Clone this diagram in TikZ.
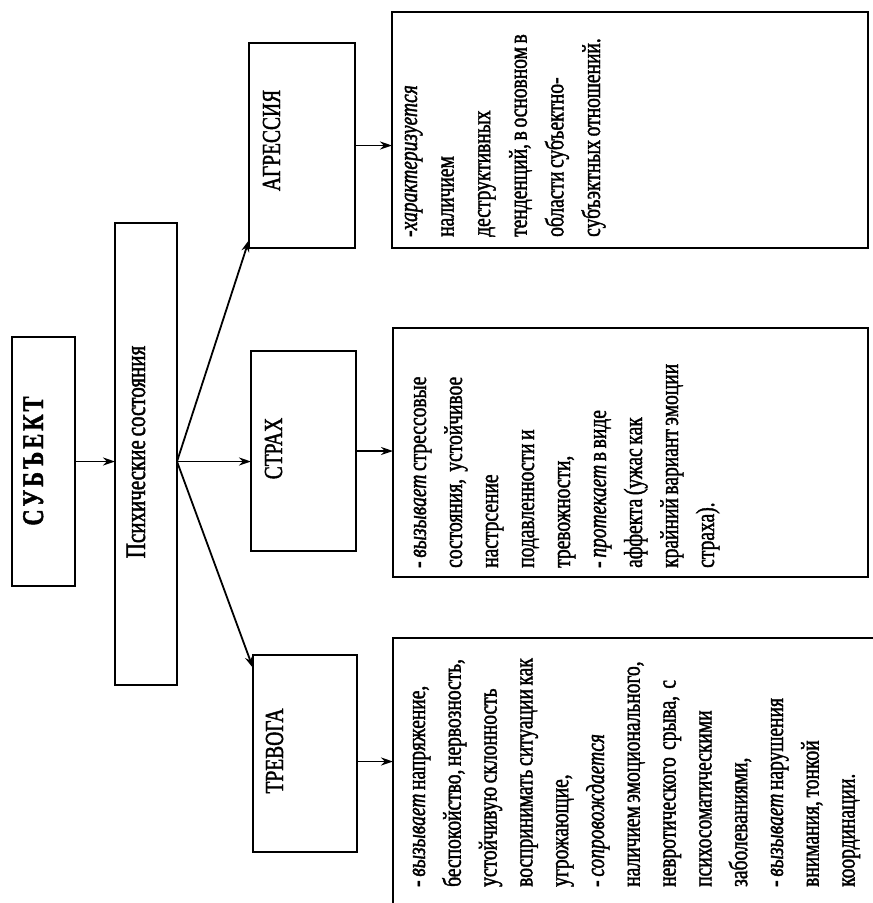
\documentclass[tikz,border=0pt]{standalone}
\usepackage{fontspec}
\setmainfont[FakeStretch=0.75,WordSpace=0.75,FakeBold=1.5]{Liberation Serif}
\usetikzlibrary{arrows.meta,calc}
\tikzset{
  box/.style={draw,line width=1.8pt,inner sep=0pt,outer sep=0pt},
  lbl/.style={rotate=90,anchor=base,inner sep=0pt,font=\fontsize{26}{30}\selectfont},
  desc/.style={rotate=90,anchor=base west,inner sep=0pt,align=flush left,text width=300pt},
  arr/.style={line width=1.8pt,-{Stealth[length=12pt,width=8pt]}}
}
\begin{document}
\begin{tikzpicture}[x=1pt,y=-1pt]
\useasboundingbox (0,0) rectangle (873,903);
\clip (0,0) rectangle (873,903);
% boxes
\node[box,minimum width=63pt,minimum height=249pt] (subj) at (43.5,461.5) {};
\node[box,minimum width=62pt,minimum height=462pt] (psy) at (146,454) {};
\node[box,minimum width=106pt,minimum height=205pt] (agr) at (302,145.5) {};
\node[box,minimum width=105pt,minimum height=200pt] (strax) at (303.5,451) {};
\node[box,minimum width=104pt,minimum height=197pt] (trev) at (305,753.5) {};
\node[box,minimum width=476pt,minimum height=236pt] (agrd) at (630,130) {};
\node[box,minimum width=475pt,minimum height=249pt] (strd) at (630.5,452.5) {};
\node[box,minimum width=497pt,minimum height=287pt] (trevd) at (641.5,781.5) {};
% labels
\node[lbl,font=\fontsize{30}{34}\selectfont\bfseries] (subjT) at (43,461)
  {С\kern3pt У\kern3pt Б\kern3pt Ъ\kern3pt Е\kern3pt К\kern3pt Т};
\node[lbl,font=\fontsize{28}{32}\selectfont] (psyT) at (145,452) {Психические состояния};
\node[lbl] (agrT) at (280,140.5) {АГРЕССИЯ};
\node[lbl] (straxT) at (282,448.5) {СТРАХ};
\node[lbl] (trevT) at (283,751) {ТРЕВОГА};
% descriptions
\node[desc,font=\fontsize{26}{36.6}\selectfont] (agrD) at (417,237)
  {-\textit{характеризуется}\\
   наличием\\
   деструктивных\\
   тенденций, в основном в\\
   области субъектно-\\
   субъэктных отношений.};
\node[desc,font=\fontsize{26}{36}\selectfont] (strD) at (426,568)
  {- \textit{вызывает} стрессовые\\
   состояния,\ \ устойчивое\\
   настрсение\\
   подавленности и\\
   тревожности,\\
   - \textit{протекает} в виде\\
   аффекта (ужас как\\
   крайний вариант эмоции\\
   страха).};
\node[desc,font=\fontsize{26}{35.8}\selectfont] (trevD) at (425,887)
  {- \textit{вызывает} напряжение,\\
   беспокойство, нервозность,\\
   устойчивую склонность\\
   воспринимать ситуации как\\
   угрожающие,\\
   - \textit{сопровождается}\\
   наличием эмоционального,\\
   невротического\ \ срыва,\ \ с\\
   психосоматическими\\
   заболеваниями,\\
   - \textit{вызывает} нарушения\\
   внимания, тонкой\\
   координации.};
% connectors
\draw[arr] (subj.east) -- (psy.west |- subj.east);
\coordinate (fork) at (psy.east |- subj.east);
\draw[arr] (fork) -- ($(agr.south west)+(0,-8)$);
\draw[arr] (fork) -- (strax.west |- fork);
\draw[arr] (fork) -- ($(trev.north west)+(0,13)$);
\draw[arr] (agr.east) -- (agrd.west |- agr.east);
\draw[arr] (strax.east) -- (strd.west |- strax.east);
\coordinate (tr) at ($(trev.east)+(0,8)$);
\draw[arr] (tr) -- (trevd.west |- tr);
\end{tikzpicture}
\end{document}
